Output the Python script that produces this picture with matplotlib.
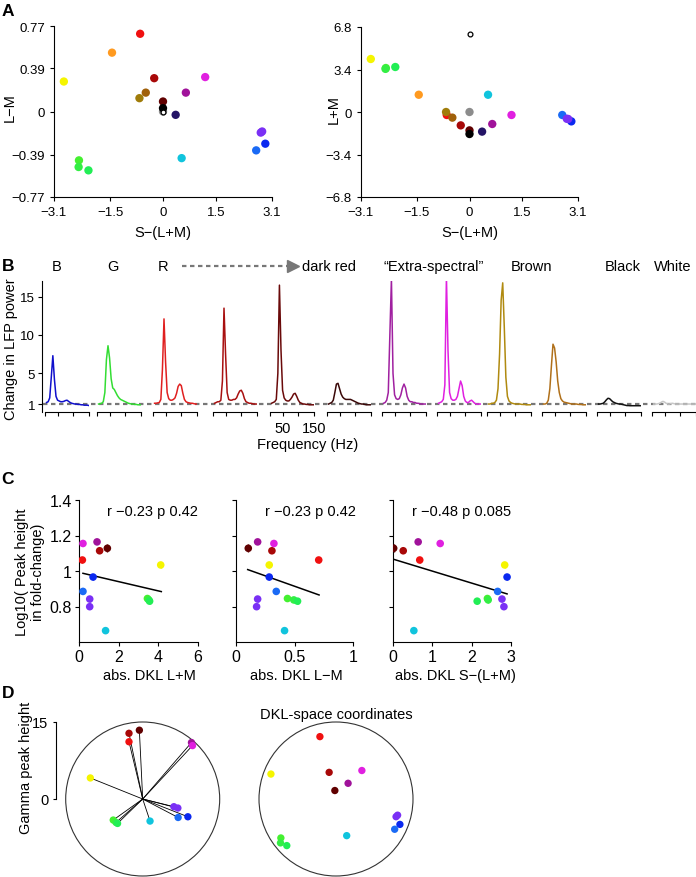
import matplotlib
matplotlib.use('Agg')
import matplotlib.pyplot as plt
from matplotlib.patches import Circle
from matplotlib.lines import Line2D

plt.rcParams['font.family'] = ['Liberation Sans', 'DejaVu Sans']
plt.rcParams['font.size'] = 10.5
plt.rcParams['axes.linewidth'] = 0.8
plt.rcParams['xtick.major.size'] = 3
plt.rcParams['ytick.major.size'] = 3
plt.rcParams['xtick.major.width'] = 0.8
plt.rcParams['ytick.major.width'] = 0.8

# ---------------- panel A: stimuli in DKL space ----------------
a_colors = ['#0a28f0', '#1a6af5', '#7a30f5', '#7a30f5', '#44f030', '#33ee44', '#22ee55',
            '#f5f500', '#ff9a20', '#f01010', '#a80808', '#600000', '#a0600a', '#a07c0a',
            '#a0129a', '#e020e0', '#10c4dd', '#241466', '#8c8c8c', '#000000']
a_s = [2.91, 2.65, 2.78, 2.82, -2.39, -2.40, -2.12, -2.82, -1.45, -0.65, -0.25, 0.0,
       -0.49, -0.67, 0.65, 1.20, 0.53, 0.36, 0.0, 0.0]
a_lm = [-0.29, -0.35, -0.19, -0.18, -0.44, -0.50, -0.53, 0.27, 0.53, 0.70, 0.30, 0.09,
        0.17, 0.12, 0.17, 0.31, -0.42, -0.03, 0.0, 0.03]
a_lum = [-0.75, -0.24, -0.54, -0.56, 3.52, 3.45, 3.60, 4.24, 1.38, -0.24, -1.07, -1.47,
         -0.45, 0.0, -0.96, -0.24, 1.38, -1.57, 0.0, -1.76]
white_s, white_lm, white_lum = 0.0, 0.0, 6.24

# ---------------- panel B: LFP spectra ----------------
freqs = list(range(15, 151, 5))
spec_blue = [1.2, 1.3, 1.8, 4.5, 7.3, 4.2, 2.0, 1.5, 1.4, 1.3, 1.3, 1.35, 1.45, 1.5, 1.35, 1.2,
             1.1, 1.05, 1.0, 1.0, 0.95, 0.95, 0.9, 0.9, 0.85, 0.85, 0.85, 0.8]
spec_green = [1.0, 1.05, 1.1, 1.3, 2.5, 6.8, 8.6, 7.0, 4.3, 3.1, 2.9, 2.5, 2.1, 1.8, 1.6, 1.5,
              1.4, 1.3, 1.2, 1.1, 1.05, 1.0, 1.0, 0.95, 0.95, 0.9, 0.9, 0.9]
spec_red = [1.1, 1.1, 1.15, 1.2, 1.6, 5.5, 12.1, 6.5, 2.5, 1.7, 1.5, 1.5, 1.6, 1.8, 2.4, 3.3,
            3.6, 3.4, 2.4, 1.6, 1.3, 1.2, 1.15, 1.1, 1.1, 1.05, 1.0, 1.0]
spec_darkred = [1.1, 1.2, 1.3, 1.3, 1.5, 4.0, 13.5, 7.5, 2.5, 1.6, 1.5, 1.5, 1.6, 1.6, 1.8, 2.3,
                2.7, 2.8, 2.4, 1.7, 1.3, 1.2, 1.1, 1.1, 1.05, 1.0, 1.0, 1.0]
spec_maroon = [1.1, 1.2, 1.3, 1.6, 5.0, 16.5, 8.0, 2.8, 1.8, 1.5, 1.4, 1.4, 1.6, 1.9, 2.3, 2.4,
               2.0, 1.5, 1.2, 1.1, 1.0, 1.0, 0.95, 0.95, 0.9, 0.9, 0.9, 0.9]
spec_darkest = [1.0, 1.1, 1.2, 1.5, 2.5, 3.6, 3.7, 3.0, 2.3, 1.9, 1.7, 1.6, 1.6, 1.6, 1.6, 1.5,
                1.4, 1.3, 1.2, 1.1, 1.05, 1.0, 1.0, 0.95, 0.9, 0.9, 0.9, 0.9]
spec_purple = [1.1, 1.2, 1.5, 2.5, 10.0, 17.3, 5.0, 2.2, 1.7, 1.6, 1.7, 2.2, 3.1, 3.6, 3.1, 2.0,
               1.5, 1.3, 1.3, 1.2, 1.2, 1.1, 1.1, 1.05, 1.0, 1.0, 1.0, 1.0]
spec_magenta = [1.1, 1.2, 1.3, 1.6, 3.5, 17.6, 8.0, 2.5, 1.7, 1.5, 1.5, 1.6, 2.0, 3.0, 4.0, 3.4,
                2.0, 1.4, 1.2, 1.2, 1.4, 1.5, 1.3, 1.1, 1.0, 1.0, 1.0, 1.0]
spec_olive = [1.0, 1.0, 1.1, 1.1, 1.2, 1.5, 3.0, 7.5, 14.5, 16.8, 11.0, 4.5, 2.0, 1.4, 1.2, 1.1,
              1.05, 1.0, 1.0, 1.0, 1.0, 0.95, 0.95, 0.95, 0.9, 0.9, 0.9, 0.9]
spec_brown = [1.0, 1.0, 1.1, 1.5, 3.0, 6.0, 8.8, 8.3, 6.5, 4.0, 2.5, 1.7, 1.4, 1.25, 1.2, 1.15,
              1.1, 1.05, 1.0, 1.0, 1.0, 1.0, 0.95, 0.95, 0.95, 0.9, 0.9, 0.9]
spec_black = [1.0, 1.0, 1.05, 1.1, 1.3, 1.55, 1.75, 1.7, 1.5, 1.3, 1.2, 1.1, 1.05, 1.0, 1.0, 0.95,
              0.9, 0.85, 0.8, 0.8, 0.78, 0.78, 0.78, 0.78, 0.78, 0.78, 0.78, 0.78]
spec_white = [1.0, 1.0, 1.0, 1.05, 1.1, 1.25, 1.35, 1.25, 1.1, 1.0, 1.0, 1.05, 1.1, 1.05, 1.0, 1.0,
              1.0, 1.0, 1.0, 1.0, 1.0, 1.0, 1.0, 1.0, 1.0, 1.0, 1.0, 1.0]
spectra = [spec_blue, spec_green, spec_red, spec_darkred, spec_maroon, spec_darkest,
           spec_purple, spec_magenta, spec_olive, spec_brown, spec_black, spec_white]
spec_colors = ['#1010cc', '#33dd33', '#e02020', '#a81010', '#6a0a0a', '#3a0808',
               '#a020a0', '#e020e0', '#b08a10', '#b0701a', '#111111', '#c8c8c8']

# ---------------- panel C / D: chromatic stimuli ----------------
c_colors = ['#0a28f0', '#1a6af5', '#7a30f5', '#7a30f5', '#44f030', '#33ee44', '#22ee55',
            '#f5f500', '#f01010', '#a80808', '#600000', '#a0129a', '#e020e0', '#10c4dd']
log_peak = [0.966, 0.885, 0.842, 0.799, 0.845, 0.837, 0.830, 1.034, 1.062, 1.114, 1.128,
            1.164, 1.155, 0.664]
log_err = [0.015, 0.015, 0.015, 0.015, 0.015, 0.015, 0.015, 0.015, 0.018, 0.015, 0.022,
           0.012, 0.015, 0.01]
abs_lum = [0.71, 0.20, 0.54, 0.54, 3.45, 3.52, 3.56, 4.12, 0.17, 1.04, 1.43, 0.91, 0.20, 1.34]
abs_lm = [0.284, 0.344, 0.185, 0.176, 0.44, 0.494, 0.526, 0.284, 0.707, 0.307, 0.105, 0.185,
          0.324, 0.415]
abs_s = [2.90, 2.66, 2.77, 2.82, 2.40, 2.42, 2.14, 2.84, 0.68, 0.26, 0.017, 0.64, 1.20, 0.53]
fit_lum_x, fit_lum_y = [0.2, 4.15], [0.987, 0.884]
fit_lm_x, fit_lm_y = [0.10, 0.71], [1.008, 0.865]
fit_s_x, fit_s_y = [0.0, 2.9], [1.067, 0.871]

gamma_x = [8.8, 6.9, 6.07, 6.85, -5.74, -5.2, -4.9, -10.2, -2.67, -2.67, -0.65, 9.5, 9.7, 1.43]
gamma_y = [-3.46, -3.6, -1.5, -1.76, -4.1, -4.57, -4.76, 4.1, 11.15, 12.8, 13.4, 11.0, 10.4, -4.3]
dkl_x = [0.83, 0.762, 0.80, 0.78, -0.716, -0.721, -0.639, -0.845, -0.209, -0.089, -0.015,
         0.157, 0.336, 0.139]
dkl_y = [-0.33, -0.393, -0.21, -0.23, -0.506, -0.57, -0.605, 0.324, 0.81, 0.346, 0.11,
         0.204, 0.37, -0.476]

W, H = 696, 878
fig = plt.figure(figsize=(W / 100, H / 100), dpi=100)


def box(l, t, r, b):
    """axes placed by pixel edges (top-left origin)"""
    return fig.add_axes([l / W, 1 - b / H, (r - l) / W, (b - t) / H])


def ftext(x, y, s, **kw):
    kw.setdefault('ha', 'center')
    kw.setdefault('va', 'center')
    fig.text(x / W, 1 - y / H, s, **kw)


def clean(ax):
    ax.spines['top'].set_visible(False)
    ax.spines['right'].set_visible(False)


# ---- A ----
axL = box(54, 27, 272, 198)
axR = box(361, 28, 578, 198)
for ax in (axL, axR):
    clean(ax)
    ax.set_xlim(-3.1, 3.1)
    ax.set_xticks([-3.1, -1.5, 0, 1.5, 3.1])
    ax.set_xticklabels(['\u22123.1', '\u22121.5', '0', '1.5', '3.1'])
    ax.tick_params(labelsize=9.5)
axL.scatter(a_s, a_lm, c=a_colors, s=36, edgecolors='none', zorder=3)
axL.scatter([white_s], [white_lm], s=12, facecolors='white', edgecolors='black', lw=0.9, zorder=4)
axL.set_ylim(-0.77, 0.77)
axL.set_yticks([-0.77, -0.39, 0, 0.39, 0.77])
axL.set_yticklabels(['\u22120.77', '\u22120.39', '0', '0.39', '0.77'])
axR.scatter(a_s, a_lum, c=a_colors, s=36, edgecolors='none', zorder=3)
axR.scatter([white_s], [white_lum], s=12, facecolors='white', edgecolors='black', lw=0.9, zorder=4)
axR.set_ylim(-6.8, 6.8)
axR.set_yticks([-6.8, -3.4, 0, 3.4, 6.8])
axR.set_yticklabels(['\u22126.8', '\u22123.4', '0', '3.4', '6.8'])
ftext(163, 233, 'S\u2212(L+M)')
ftext(470, 233, 'S\u2212(L+M)')
ftext(10, 108, 'L\u2212M', rotation=90)
ftext(334, 110, 'L+M', rotation=90)

# ---- B ----
b_starts = [45, 97, 153, 213, 270, 327, 382, 437, 487, 542, 597, 652]
b_top, b_bot = 282.3, 412.7
bg = box(43, b_top, 696, b_bot)
bg.set_xlim(0, 1)
bg.set_ylim(0, 17)
bg.axis('off')
bg.axhline(1, color='#777777', lw=1.6, ls=(0, (2, 1.6)), zorder=0)
for i, (x0, spec, col) in enumerate(zip(b_starts, spectra, spec_colors)):
    ax = box(x0, b_top, x0 + 44, b_bot)
    ax.patch.set_alpha(0)
    ax.plot(freqs, spec, color=col, lw=1.1)
    ax.set_xlim(10, 150)
    ax.set_ylim(0, 17)
    clean(ax)
    ax.set_xticks([10, 50, 100, 150])
    ax.spines['bottom'].set_bounds(10, 150)
    if i == 4:
        ax.set_xticklabels(['', '50', '', '150'])
    else:
        ax.set_xticklabels([])
    if i == 0:
        ax.spines['left'].set_position(('outward', 2))
        ax.set_yticks([1, 5, 10, 15])
        ax.tick_params(axis='y', labelsize=9.5, pad=2)
    else:
        ax.spines['left'].set_visible(False)
        ax.set_yticks([])
ftext(11, 349, 'Change in LFP power', rotation=90)
ftext(308, 445, 'Frequency (Hz)')
for x, s in [(57, 'B'), (113, 'G'), (163, 'R'), (434, '\u201cExtra-spectral\u201d'),
             (531, 'Brown'), (623, 'Black'), (673, 'White')]:
    ftext(x, 267, s)
ftext(302, 267, 'dark red', ha='left')
fig.add_artist(Line2D([182 / W, 290 / W], [1 - 267 / H] * 2, transform=fig.transFigure,
                      color='#777777', lw=1.6, ls=(0, (2, 1.6))))
fig.add_artist(Line2D([293 / W], [1 - 267 / H], transform=fig.transFigure, marker='>',
                      ms=9, color='#777777', mec='#777777', ls='none'))

# ---- C ----
c_boxes = [(79, 198), (236, 353), (393, 511)]
c_xs = [abs_lum, abs_lm, abs_s]
c_fits = [(fit_lum_x, fit_lum_y), (fit_lm_x, fit_lm_y), (fit_s_x, fit_s_y)]
c_xlims = [(0, 6), (0, 1), (0, 3)]
c_xticks = [[0, 2, 4, 6], [0, 0.5, 1], [0, 1, 2, 3]]
c_xticklabels = [['0', '2', '4', '6'], ['0', '0.5', '1'], ['0', '1', '2', '3']]
c_xlabels = ['abs. DKL L+M', 'abs. DKL L\u2212M', 'abs. DKL S\u2212(L+M)']
c_label_x = [149, 296, 455]
c_stats = ['r \u22120.23 p 0.42', 'r \u22120.23 p 0.42', 'r \u22120.48 p 0.085']
c_stat_x = [152, 310, 462]
for i, (l, r) in enumerate(c_boxes):
    ax = box(l, 501, r, 643)
    clean(ax)
    xs = c_xs[i]
    ax.vlines(xs, [y - e for y, e in zip(log_peak, log_err)],
              [y + e for y, e in zip(log_peak, log_err)], colors=c_colors, lw=1)
    ax.scatter(xs, log_peak, c=c_colors, s=30, edgecolors='none', zorder=3)
    ax.plot(c_fits[i][0], c_fits[i][1], color='black', lw=1.1)
    ax.set_xlim(*c_xlims[i])
    ax.set_ylim(0.6, 1.4)
    ax.set_xticks(c_xticks[i])
    ax.set_xticklabels(c_xticklabels[i])
    ax.set_yticks([0.8, 1.0, 1.2, 1.4])
    ax.tick_params(labelsize=11.5, pad=2)
    if i == 0:
        ax.set_yticklabels(['0.8', '1', '1.2', '1.4'])
    else:
        ax.set_yticklabels([])
    ftext(c_label_x[i], 676, c_xlabels[i])
    ftext(c_stat_x[i], 512, c_stats[i])
ftext(30, 572, 'Log10( Peak height\nin fold-change)', rotation=90, multialignment='center')

# ---- D ----
axD1 = box(65.7, 723, 219.7, 877)
axD1.set_xlim(-15, 15)
axD1.set_ylim(-15, 15)
for sp in ('top', 'right', 'bottom'):
    axD1.spines[sp].set_visible(False)
axD1.spines['left'].set_bounds(0, 15)
axD1.spines['left'].set_position(('outward', 7))
axD1.set_xticks([])
axD1.set_yticks([0, 15])
axD1.tick_params(axis='y', length=2)
axD1.add_patch(Circle((0, 0), 15, fill=False, ec='#333333', lw=0.8, clip_on=False))
for gx, gy in zip(gamma_x, gamma_y):
    axD1.plot([0, gx], [0, gy], color='black', lw=0.6, clip_on=False)
axD1.scatter(gamma_x, gamma_y, c=c_colors, s=28, edgecolors='none', zorder=3, clip_on=False)
ftext(26, 768, 'Gamma peak height', rotation=90)

axD2 = box(259, 723, 413, 877)
axD2.set_xlim(-1, 1)
axD2.set_ylim(-1, 1)
axD2.axis('off')
axD2.add_patch(Circle((0, 0), 1, fill=False, ec='#333333', lw=0.8, clip_on=False))
axD2.scatter(dkl_x, dkl_y, c=c_colors, s=28, edgecolors='none', zorder=3, clip_on=False)
ftext(336, 715, 'DKL-space coordinates')

for x, y, s in [(8, 12, 'A'), (8, 267, 'B'), (8, 480, 'C'), (8, 693, 'D')]:
    ftext(x, y, s, fontsize=12.5, fontweight='bold')

fig.savefig('out.png', dpi=100)
